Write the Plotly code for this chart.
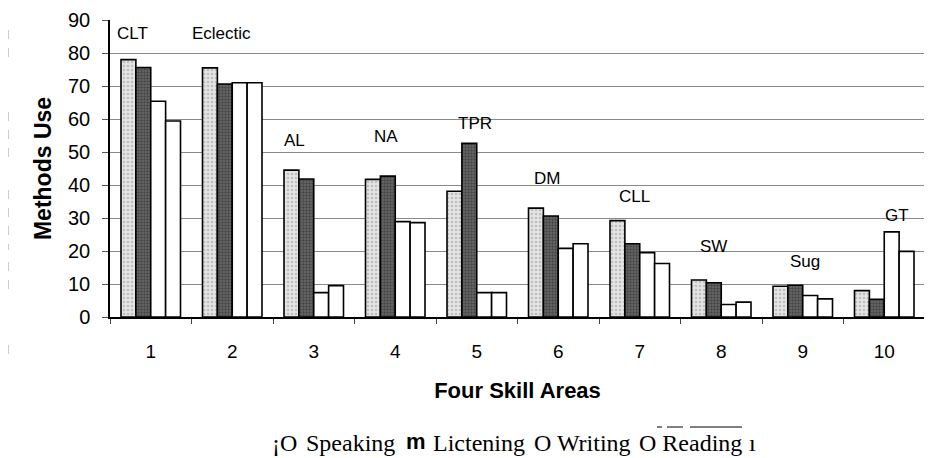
import plotly.graph_objects as go

categories = ["1", "2", "3", "4", "5", "6", "7", "8", "9", "10"]
method_labels = ["CLT", "Eclectic", "AL", "NA", "TPR", "DM", "CLL", "SW", "Sug", "GT"]
speaking = [78, 75.5, 44.5, 41.7, 38.1, 33, 29.2, 11.2, 9.3, 8]
listening = [75.6, 70.6, 41.8, 42.7, 52.6, 30.6, 22.2, 10.4, 9.6, 5.4]
writing = [65.4, 71, 7.4, 28.9, 7.4, 20.8, 19.5, 3.8, 6.5, 25.8]
reading = [59.4, 71, 9.5, 28.6, 7.4, 22.2, 16.2, 4.5, 5.5, 19.9]
label_heights = [86, 86, 53.6, 54.6, 58.7, 42, 36.5, 21.3, 16.8, 30.9]
y_ticks = [0, 10, 20, 30, 40, 50, 60, 70, 80, 90]
legend_parts = ["¡O", "Speaking", "<b>m</b>", "Lictening", "O Writing", "O Reading", "ı"]

# layout-only positions
label_shift = [-0.44, -0.52, -0.39, -0.285, -0.255, -0.32, -0.28, -0.285, -0.18, -0.015]
legend_px = [270, 304, 404, 431, 532, 637, 747]
legend_fonts = ["Liberation Serif", "Liberation Serif", "Liberation Sans", "Liberation Serif",
                "Liberation Serif", "Liberation Serif", "Liberation Serif"]
legend_sizes = [24, 24, 22, 24, 24, 24, 24]
legend_shift = [-126, -126, -124, -126, -126, -126, -126]

PLOT_L, PLOT_R, PLOT_T, PLOT_B = 110, 925, 20, 317


def px_x(px):
    return (px - PLOT_L) / (PLOT_R - PLOT_L)


def px_y(py):
    return (PLOT_B - py) / (PLOT_B - PLOT_T)


fig = go.Figure()
line = dict(color="black", width=1.6)
fig.add_trace(go.Bar(name="Speaking", x=categories, y=speaking,
                     marker=dict(color="#d6d6d6", line=line,
                                 pattern=dict(shape=".", fgcolor="#9a9a9a", bgcolor="#e4e4e4", size=4, solidity=0.35))))
fig.add_trace(go.Bar(name="Lictening", x=categories, y=listening,
                     marker=dict(color="#444444", line=line,
                                 pattern=dict(shape=".", fgcolor="#222222", bgcolor="#6a6a6a", size=3, solidity=0.5))))
fig.add_trace(go.Bar(name="Writing", x=categories, y=writing,
                     marker=dict(color="white", line=line)))
fig.add_trace(go.Bar(name="Reading", x=categories, y=reading,
                     marker=dict(color="white", line=line)))

for i, (lab, h) in enumerate(zip(method_labels, label_heights)):
    fig.add_annotation(x=i + label_shift[i], y=h, text=lab, showarrow=False,
                       xanchor="left", yanchor="middle",
                       font=dict(family="Liberation Sans, Arial", size=17, color="black"))

for txt, px, fam, sz, sh in zip(legend_parts, legend_px, legend_fonts, legend_sizes, legend_shift):
    fig.add_annotation(xref="paper", yref="paper", x=px_x(px), y=0,
                       yshift=sh, xanchor="left", yanchor="middle", showarrow=False, text=txt,
                       font=dict(family=fam, size=sz, color="black"))

# small overline marks above "O Reading"
for x0, x1 in [(657, 662), (667, 683), (690, 742)]:
    fig.add_shape(type="line", xref="paper", yref="paper",
                  x0=px_x(x0), x1=px_x(x1), y0=px_y(427), y1=px_y(427),
                  line=dict(color="black", width=1))

# faint scan marks along the left edge
for y0, y1 in [(30, 62), (112, 160), (190, 250), (262, 292), (345, 360)]:
    fig.add_shape(type="line", xref="paper", yref="paper",
                  x0=px_x(8), x1=px_x(8), y0=px_y(y0), y1=px_y(y1),
                  line=dict(color="#9a9a9a", width=1, dash="dash"))

fig.update_layout(
    width=924, height=450,
    margin=dict(l=102, r=7, t=12, b=141, autoexpand=False),
    paper_bgcolor="white", plot_bgcolor="white",
    barmode="group", bargap=0.27, bargroupgap=0,
    showlegend=False,
    font=dict(family="Liberation Sans, Arial", color="black"),
)
fig.update_xaxes(
    type="category", tickson="boundaries", ticks="outside", ticklen=5,
    tickcolor="#444", tickfont=dict(size=19), ticklabelstandoff=16,
    showline=True, linecolor="black", linewidth=1.5, mirror=False,
    title=dict(text="<b>Four Skill Areas</b>", font=dict(size=22), standoff=22),
    showgrid=False, automargin=False,
)
fig.update_yaxes(
    range=[0, 90], tickvals=y_ticks, tickfont=dict(size=20),
    ticks="outside", ticklen=6, tickcolor="#555", ticklabelstandoff=8,
    showgrid=True, gridcolor="#8a8a8a", gridwidth=1,
    showline=True, linecolor="black", linewidth=1.5,
    title=dict(text="<b>Methods Use</b>", font=dict(size=23), standoff=10),
    zeroline=False, automargin=False,
)
fig.add_shape(type="line", xref="paper", yref="paper", x0=1, x1=1, y0=0, y1=1,
              line=dict(color="#777", width=1, dash="dot"))

fig.write_html("out.html")
